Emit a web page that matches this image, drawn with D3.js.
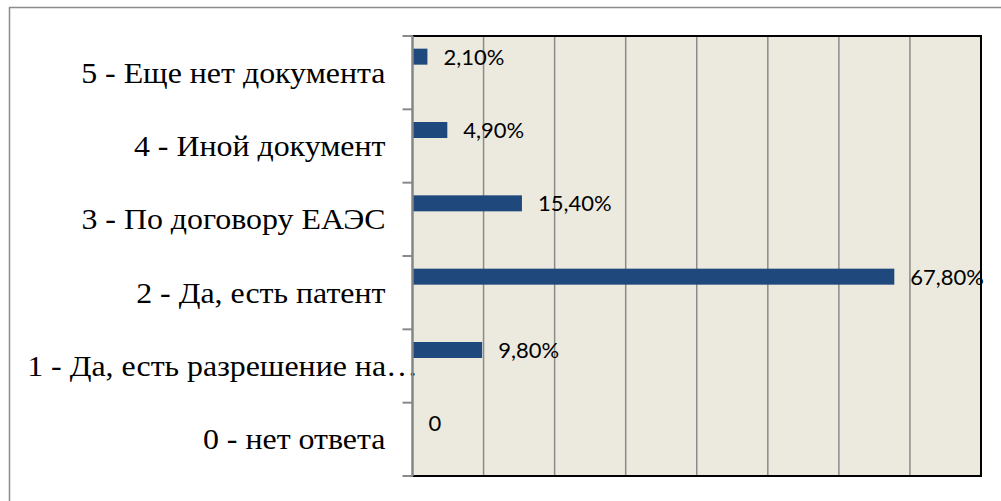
<!DOCTYPE html>
<html><head><meta charset="utf-8">
<script src="https://cdn.jsdelivr.net/npm/d3@7"></script>
<style>html,body{margin:0;padding:0;background:#fff;overflow:hidden}</style>
</head><body>
<script>
const categories = ["5 - Еще нет документа","4 - Иной документ","3 - По договору ЕАЭС","2 - Да, есть патент","1 - Да, есть разрешение на…","0 - нет ответа"];
const values = [2.1, 4.9, 15.4, 67.8, 9.8, 0];
const xTicks = [0,10,20,30,40,50,60,70,80];

const W = 1001, H = 501;
const svg = d3.select("body").append("svg").attr("width", W).attr("height", H);
const m = {left: 412.5, right: 981, top: 36, bottom: 476};

svg.append("rect").attr("x",9.5).attr("y",7.5).attr("width",1010).attr("height",520)
  .attr("fill","#fff").attr("stroke","#8c8c8c").attr("stroke-width",1.5);

const x = d3.scaleLinear().domain([0,80]).range([m.left, m.right]);
const y = d3.scaleBand().domain(categories).range([m.top, m.bottom]).padding(0);

svg.append("rect").attr("x",m.left).attr("y",m.top).attr("width",m.right-m.left).attr("height",m.bottom-m.top)
  .attr("fill","#ECEADF");

svg.append("g").selectAll("line").data(xTicks.filter(t=>t>0&&t<80)).join("line")
  .attr("x1",d=>x(d)).attr("x2",d=>x(d)).attr("y1",m.top).attr("y2",m.bottom)
  .attr("stroke","#8a8a8a").attr("stroke-width",1.5);

const bh = 16;
svg.append("g").selectAll("rect").data(values).join("rect")
  .attr("x", x(0)).attr("width", d=>x(d)-x(0))
  .attr("y",(d,i)=>y(categories[i])+y.bandwidth()/2-1.5*bh).attr("height",bh)
  .attr("fill","#1F497D");

svg.append("g").selectAll("text").data(values).join("text")
  .attr("x", d=>x(d)+16)
  .attr("y",(d,i)=>y(categories[i])+y.bandwidth()/2-bh)
  .attr("dy","0.36em")
  .style("font-family","Lato, 'Open Sans', sans-serif").style("font-size","22px").attr("fill","#000")
  .text(d=> d===0 ? "0" : d.toFixed(2).replace(".",",")+"%");

// plot border top/right/bottom
svg.append("path").attr("d",`M${m.left},${m.top}H${m.right}V${m.bottom}H${m.left}`)
  .attr("fill","none").attr("stroke","#000").attr("stroke-width",2);

// y axis
const pad = 27, stretch = 1.1, leftLimit = 27;
const yAxis = d3.axisLeft(y).tickSize(0).tickPadding(0);
const gy = svg.append("g").attr("transform",`translate(${m.left},0)`).call(yAxis);
gy.attr("font-family",null).attr("font-size",null);
gy.select(".domain").remove();
gy.selectAll("text")
  .style("font-family","'Liberation Serif', 'Times New Roman', serif").style("font-size","29px")
  .attr("fill","#000").attr("x",0).attr("dy","0.34em")
  .each(function(){
    const w = this.getComputedTextLength()*stretch;
    let endX = -pad;
    const startAbs = m.left + endX - w;
    if (startAbs < leftLimit) endX += (leftLimit - startAbs);
    d3.select(this).attr("transform",`translate(${endX},0) scale(${stretch},1)`);
  });
svg.append("g").selectAll("line").data(d3.range(categories.length+1)).join("line")
  .attr("x1",m.left-10).attr("x2",m.left)
  .attr("y1",i=>m.top + i*y.step()).attr("y2",i=>m.top + i*y.step())
  .attr("stroke","#8a8a8a").attr("stroke-width",2);
svg.append("line").attr("x1",m.left).attr("x2",m.left).attr("y1",m.top).attr("y2",m.bottom)
  .attr("stroke","#868686").attr("stroke-width",2.5);
</script>
</body></html>
